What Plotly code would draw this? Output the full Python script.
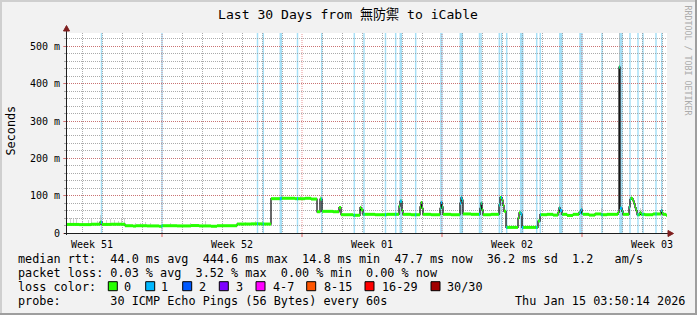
import plotly.graph_objects as go

# ---------------- data ----------------
# time axis: days since the start of the 30-day window
med_day = [0.00, 0.60, 1.20, 1.65, 1.75, 2.20, 2.90, 3.30, 3.45, 4.00, 4.60, 4.75,
           5.50, 6.20, 6.60, 7.20, 7.50, 8.50, 9.20, 9.80, 10.20, 10.70, 11.40,
           11.90, 12.20, 12.50, 12.65, 12.75, 13.30, 13.60, 13.70, 14.30, 14.65,
           14.70, 14.80, 15.40, 16.00, 16.60, 16.65, 16.75, 16.80, 17.20, 17.65,
           17.70, 17.75, 17.80, 18.20, 18.65, 18.70, 18.75, 18.80, 19.20, 19.65,
           19.70, 19.75, 19.80, 20.20, 20.65, 20.70, 20.75, 20.80, 21.20, 21.60,
           21.65, 21.75, 21.80, 21.85, 21.95, 22.55, 22.60, 22.70, 22.75, 23.55,
           23.65, 24.00, 24.30, 24.55, 24.60, 24.65, 24.75, 25.00, 25.30, 25.60,
           25.70, 25.75, 25.80, 26.10, 26.40, 26.70, 27.00, 27.55, 27.60, 27.65,
           27.75, 27.80, 28.10, 28.15, 28.20, 28.25, 28.30, 28.35, 28.40, 28.45,
           28.50, 28.65, 28.70, 28.90, 29.30, 29.70, 29.75, 29.80, 29.95]
med_ms = [23, 22.5, 23.5, 29, 23, 23.5, 19.5, 18.5, 19.5, 19, 18, 19.5,
          19, 20, 19, 18, 19.5, 24, 24.5, 24, 92, 93, 92,
          93, 91, 57, 91, 58, 57, 68, 49, 47.5, 68,
          62, 50, 49, 50, 72, 85, 60, 50, 49, 70,
          82, 66, 50, 49, 66, 82, 70, 50, 49, 80,
          94, 88, 51, 50, 66, 80, 62, 49, 50, 75,
          95, 88, 74, 58, 15, 40, 54, 50, 15, 32,
          49, 50, 48, 55, 67, 60, 50, 47, 50, 55,
          62, 52, 50, 48, 51, 49, 50, 55, 444.6, 66,
          58, 50, 70, 90, 94, 92, 86, 78, 68, 60,
          49, 55, 50, 49, 51, 60, 54, 50, 47.7]

# packet-loss (1/30) periods: centre day and length in RRD steps
loss_day = [1.725, 4.75, 9.525, 9.815, 10.69, 11.525, 12.735, 14.365, 14.85,
            15.925, 16.435, 16.69, 17.435, 18.72, 19.715, 20.625, 20.70, 21.615,
            21.725, 21.985, 22.735, 23.485, 23.665, 24.69, 25.70, 26.75, 27.70,
            28.15, 28.55, 28.80, 29.45, 29.735]
loss_steps = [1, 1, 1, 1, 2, 1, 1, 1, 1,
              1, 1, 2, 1, 2, 3, 1, 1, 1,
              1, 1, 3, 1, 1, 3, 3, 1, 3,
              1, 1, 1, 1, 1]

# smoke (spread of the individual pings)
smoke_day = [0.15, 0.30, 0.45, 0.75, 1.05, 1.20, 1.50, 1.65, 1.95, 2.15, 2.35,
             2.55, 2.70, 2.85, 3.40, 3.65, 3.90, 4.15, 5.15, 6.15, 6.90, 7.75,
             8.90, 9.40, 10.75, 11.65, 12.65, 14.70, 16.65, 19.70, 21.65,
             24.60, 24.65, 25.70, 25.75, 26.70, 27.60, 28.65, 29.70, 29.75]
smoke_lo_ms = [20, 20, 20, 20, 20, 20, 20, 20, 20, 20, 20,
               20, 20, 20, 17, 17, 17, 17, 17, 17, 17, 17,
               22, 22, 90, 90, 90, 50, 50, 50, 50,
               48, 48, 48, 48, 48, 444, 48, 48, 48]
smoke_hi_ms = [40, 38, 40, 32, 36, 38, 33, 48, 34, 38, 36,
               33, 38, 40, 28, 26, 30, 26, 28, 28, 32, 27,
               30, 32, 102, 100, 98, 78, 92, 98, 100,
               80, 70, 78, 70, 68, 560, 68, 72, 65]

week_label_day = [1.25, 8.25, 15.25, 22.25, 29.25]
week_label_text = ["Week 51", "Week 52", "Week 01", "Week 02", "Week 03"]
week_grid_day = [4.75, 11.75, 18.75, 25.75]
y_tick_s = [0, 0.1, 0.2, 0.3, 0.4, 0.5]
y_tick_text = ["0", "100 m", "200 m", "300 m", "400 m", "500 m"]

loss_legend_labels = ["0", "1", "2", "3", "4-7", "8-15", "16-29", "30/30"]
loss_legend_colors = ["#26ff00", "#00b8ff", "#0059ff", "#7e00ff", "#ff00ff",
                      "#ff5500", "#ff0000", "#a00000"]

title_text = "Last 30 Days from 無防禦 to iCable"
legend_lines = [
    "median rtt:  44.0 ms avg  444.6 ms max  14.8 ms min  47.7 ms now  36.2 ms sd  1.2   am/s",
    "packet loss: 0.03 % avg  3.52 % max  0.00 % min  0.00 % now",
    "loss color:",
    "probe:       30 ICMP Echo Pings (56 Bytes) every 60s",
]
stamp_text = "Thu Jan 15 03:50:14 2026"

# ---------------- layout geometry ----------------
W, H = 697, 315
ML, MR, MT, MB = 67, 30, 33, 82
PW, PH = W - ML - MR, H - MT - MB
STEP = 0.05          # one RRD step (1.2 h) in days
DAYS = 30.0
YMAX = PH / 373.2    # seconds shown on the y axis

MONO = "DejaVu Sans Mono, Noto Sans CJK TC, monospace"
GRID = "rgba(143,143,143,0.75)"
MGRID = "rgba(222,79,79,0.6)"
ARROW = "#7f1f1f"
AXIS = "#1f1f1f"
LOSSBG = "rgb(166,224,247)"


def fx(p):
    return (p - ML) / PW


def fy(p):
    return (H - MB - p) / PH


def med_at(t):
    v = med_ms[0]
    for d, m in zip(med_day, med_ms):
        if d <= t + 1e-9:
            v = m
    return v


fig = go.Figure()

# smoke
fig.add_trace(go.Bar(
    x=smoke_day,
    y=[(h - l) / 1000 for l, h in zip(smoke_lo_ms, smoke_hi_ms)],
    base=[l / 1000 for l in smoke_lo_ms],
    width=STEP,
    marker=dict(color="rgba(170,170,170,0.55)", line=dict(width=0)),
    hoverinfo="skip",
))

# thin dark median line (step)
fig.add_trace(go.Scatter(
    x=med_day + [DAYS], y=[m / 1000 for m in med_ms] + [med_ms[-1] / 1000],
    mode="lines", line=dict(color="#181818", width=1.3, shape="hv"),
    hoverinfo="skip",
))

# loss-coloured band around the median: green (0 loss)
gx, gy = [], []
for t0, t1, v in zip(med_day, med_day[1:] + [DAYS], med_ms):
    gx += [t0, t1, None]
    gy += [v / 1000, v / 1000, None]
fig.add_trace(go.Scatter(x=gx, y=gy, mode="lines",
                         line=dict(color=loss_legend_colors[0], width=3),
                         hoverinfo="skip"))

# blue (1/30 loss) band pieces
bx, by = [], []
for c, n in zip(loss_day, loss_steps):
    a, b = c - n * STEP / 2, c + n * STEP / 2
    cuts = [a] + [d for d in med_day if a < d < b] + [b]
    for s0, s1 in zip(cuts[:-1], cuts[1:]):
        v = med_at(s0) / 1000
        bx += [s0, s1, None]
        by += [v, v, None]
fig.add_trace(go.Scatter(x=bx, y=by, mode="lines",
                         line=dict(color=loss_legend_colors[1], width=3),
                         hoverinfo="skip"))

shapes = []
# loss background bars
for c, n in zip(loss_day, loss_steps):
    shapes.append(dict(type="rect", xref="x", yref="paper",
                       x0=c - n * STEP / 2 - 0.012, x1=c + n * STEP / 2 + 0.012,
                       y0=0, y1=1, fillcolor=LOSSBG, line=dict(width=0),
                       layer="below"))
# major (week) vertical grid lines + ticks
for d in week_grid_day:
    shapes.append(dict(type="line", xref="x", yref="paper", x0=d, x1=d, y0=0, y1=1,
                       line=dict(color=MGRID, width=1, dash="1px,1px"), layer="between"))
    shapes.append(dict(type="line", xref="x", yref="paper", x0=d, x1=d,
                       y0=fy(233), y1=fy(237),
                       line=dict(color="rgba(222,79,79,0.9)", width=1)))
# axes with arrows
shapes.append(dict(type="line", xref="paper", yref="paper", x0=fx(66.5), x1=fx(66.5),
                   y0=fy(235), y1=fy(30), line=dict(color=AXIS, width=1)))
shapes.append(dict(type="line", xref="paper", yref="paper", x0=fx(64), x1=fx(668),
                   y0=fy(233.5), y1=fy(233.5), line=dict(color=AXIS, width=1)))
shapes.append(dict(type="path", xref="paper", yref="paper",
                   path=f"M {fx(63.5)},{fy(31)} L {fx(66.5)},{fy(25.5)} L {fx(69.5)},{fy(31)} Z",
                   fillcolor=ARROW, line=dict(color=ARROW, width=1)))
shapes.append(dict(type="path", xref="paper", yref="paper",
                   path=f"M {fx(668)},{fy(230.5)} L {fx(673.5)},{fy(233.5)} L {fx(668)},{fy(236.5)} Z",
                   fillcolor=ARROW, line=dict(color=ARROW, width=1)))
# 3D frame
shapes.append(dict(type="line", xref="paper", yref="paper", x0=fx(0), x1=fx(W),
                   y0=fy(1), y1=fy(1), line=dict(color="#cfcfcf", width=2)))
shapes.append(dict(type="line", xref="paper", yref="paper", x0=fx(1), x1=fx(1),
                   y0=fy(0), y1=fy(H), line=dict(color="#cfcfcf", width=2)))
shapes.append(dict(type="line", xref="paper", yref="paper", x0=fx(0), x1=fx(W),
                   y0=fy(H - 1), y1=fy(H - 1), line=dict(color="#9e9e9e", width=2)))
shapes.append(dict(type="line", xref="paper", yref="paper", x0=fx(W - 1), x1=fx(W - 1),
                   y0=fy(0), y1=fy(H), line=dict(color="#9e9e9e", width=2)))

annotations = []
annotations.append(dict(text=title_text, xref="paper", yref="paper",
                        x=fx(348), y=fy(14.5), xanchor="center", yanchor="middle",
                        showarrow=False, font=dict(family=MONO, size=13.1, color="black")))
annotations.append(dict(text="Seconds", xref="paper", yref="paper", textangle=-90,
                        x=fx(10.5), y=fy(131), xanchor="center", yanchor="middle",
                        showarrow=False, font=dict(family=MONO, size=11.8, color="black")))
annotations.append(dict(text="RRDTOOL / TOBI OETIKER", xref="paper", yref="paper",
                        textangle=90, x=fx(687.5), y=fy(60), xanchor="center",
                        yanchor="middle", showarrow=False,
                        font=dict(family=MONO, size=8.3, color="#ababab")))

line_y = [259.3, 273.3, 287.0, 300.7]
for txt, yy in zip(legend_lines, line_y):
    annotations.append(dict(text=txt.replace(" ", "\u00a0"), xref="paper", yref="paper",
                            x=fx(15.5), y=fy(yy), xanchor="left", yanchor="middle",
                            showarrow=False,
                            font=dict(family=MONO, size=11.8, color="black")))
annotations.append(dict(text=stamp_text.replace(" ", "\u00a0"), xref="paper", yref="paper",
                        x=fx(512.5), y=fy(300.7), xanchor="left", yanchor="middle",
                        showarrow=False, font=dict(family=MONO, size=11.8, color="black")))

box_x = [108.3, 145.7, 182.7, 219.3, 256.0, 306.7, 365.0, 431.0]
lab_x = [122.3, 159.0, 197.0, 234.0, 271.0, 321.7, 379.7, 444.7]
for bxp, lxp, lab, col in zip(box_x, lab_x, loss_legend_labels, loss_legend_colors):
    shapes.append(dict(type="rect", xref="paper", yref="paper",
                       x0=fx(bxp), x1=fx(bxp + 9), y0=fy(290.7), y1=fy(281.7),
                       fillcolor=col, line=dict(color="black", width=1)))
    annotations.append(dict(text=lab, xref="paper", yref="paper",
                            x=fx(lxp), y=fy(287.0), xanchor="left", yanchor="middle",
                            showarrow=False,
                            font=dict(family=MONO, size=11.8, color="black")))

minor_days = [k + 0.75 for k in range(30) if (k + 0.75) not in week_grid_day]

fig.update_layout(
    width=W, height=H,
    margin=dict(l=ML, r=MR, t=MT, b=MB, pad=0),
    paper_bgcolor="#f2f2f2", plot_bgcolor="white",
    showlegend=False, barmode="overlay", bargap=0,
    shapes=shapes, annotations=annotations,
    xaxis=dict(
        range=[0, DAYS], showline=False, zeroline=False, showgrid=False,
        tickmode="array", tickvals=week_label_day, ticktext=week_label_text,
        ticks="", ticklabelstandoff=4,
        tickfont=dict(family=MONO, size=10, color="black"),
        minor=dict(tickmode="array", tickvals=minor_days, showgrid=True,
                   gridcolor=GRID, griddash="1px,1px", gridwidth=1, ticks=""),
        fixedrange=True,
    ),
    yaxis=dict(
        range=[0, YMAX], showline=False, zeroline=False,
        tickmode="array", tickvals=y_tick_s, ticktext=y_tick_text,
        showgrid=True, gridcolor=MGRID, griddash="1px,1px", gridwidth=1,
        ticks="outside", ticklen=3, tickcolor=MGRID, ticklabelstandoff=1,
        tickfont=dict(family=MONO, size=10, color="black"),
        minor=dict(dtick=0.02, tick0=0, showgrid=True, gridcolor=GRID,
                   griddash="1px,1px", gridwidth=1, ticks="outside", ticklen=2,
                   tickcolor=GRID),
        fixedrange=True,
    ),
)

fig.write_html("out.html")
